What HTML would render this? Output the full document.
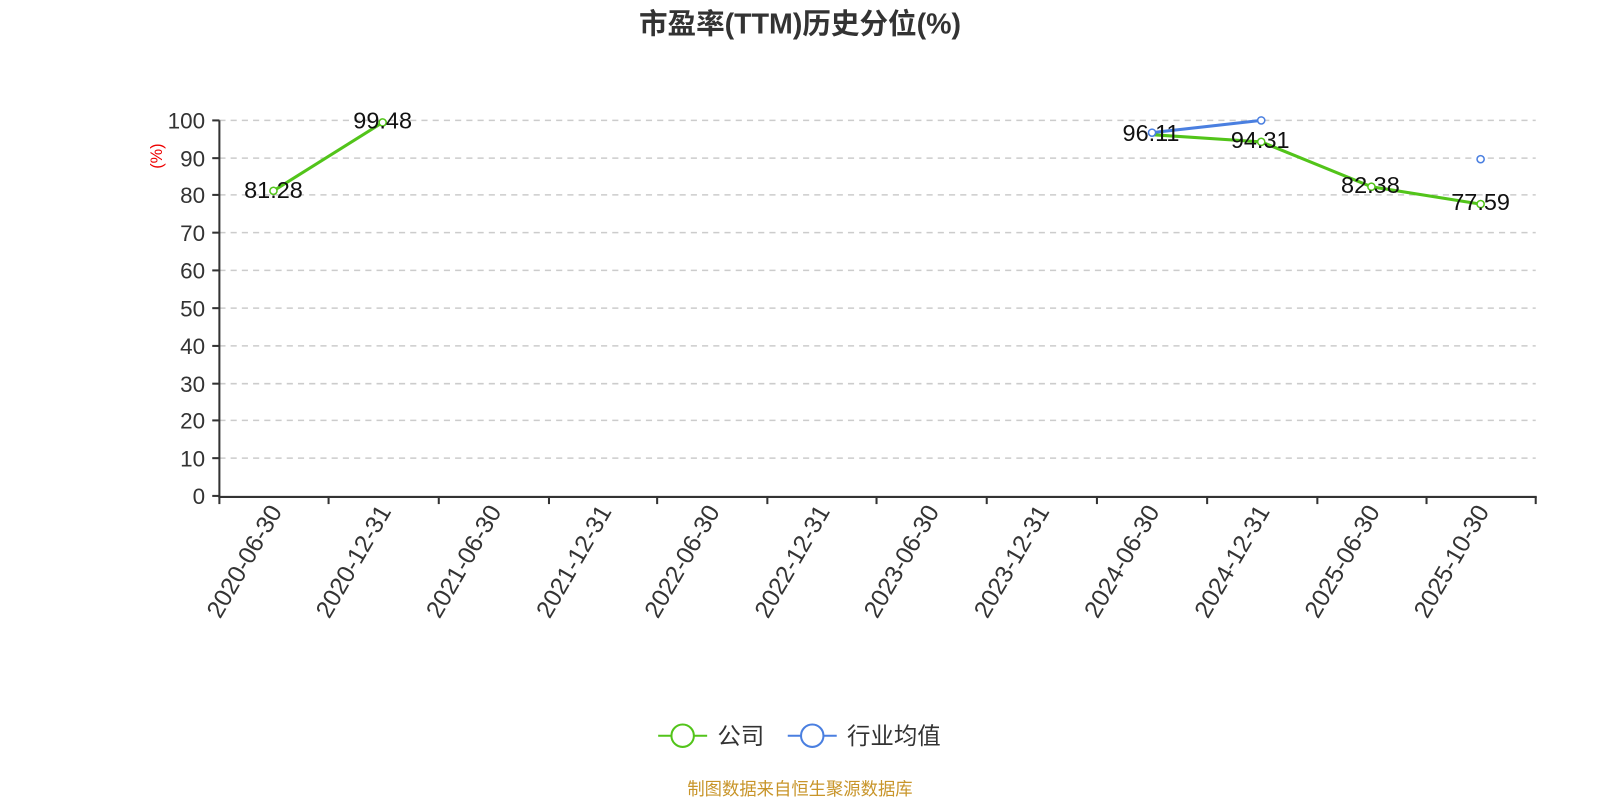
<!DOCTYPE html>
<html><head><meta charset="utf-8"><style>
html,body{margin:0;padding:0;background:#fff;}
svg{display:block;font-family:"Liberation Sans","Noto Sans CJK SC",sans-serif;}
</style></head><body>
<svg width="1600" height="800" viewBox="0 0 1568 784" preserveAspectRatio="none" xmlns="http://www.w3.org/2000/svg">
<rect width="1568" height="784" fill="#fff"/>
<text x="784" y="33" text-anchor="middle" font-size="28" font-weight="bold" fill="#333">市盈率(TTM)历史分位(%)</text>
<g stroke="#ccc" stroke-width="1.5" stroke-dasharray="6,5">
<line x1="215" y1="118" x2="1505" y2="118"/><line x1="215" y1="155" x2="1505" y2="155"/>
<line x1="215" y1="191" x2="1505" y2="191"/><line x1="215" y1="228" x2="1505" y2="228"/>
<line x1="215" y1="265" x2="1505" y2="265"/><line x1="215" y1="302" x2="1505" y2="302"/>
<line x1="215" y1="339" x2="1505" y2="339"/><line x1="215" y1="376" x2="1505" y2="376"/>
<line x1="215" y1="412" x2="1505" y2="412"/><line x1="215" y1="449" x2="1505" y2="449"/>
</g>
<g stroke="#333" stroke-width="2">
<line x1="215" y1="118" x2="215" y2="487"/><line x1="214" y1="487" x2="1506" y2="487"/>
<line x1="208" y1="118" x2="215" y2="118"/><line x1="208" y1="155" x2="215" y2="155"/><line x1="208" y1="191" x2="215" y2="191"/><line x1="208" y1="228" x2="215" y2="228"/><line x1="208" y1="265" x2="215" y2="265"/><line x1="208" y1="302" x2="215" y2="302"/><line x1="208" y1="339" x2="215" y2="339"/><line x1="208" y1="376" x2="215" y2="376"/><line x1="208" y1="412" x2="215" y2="412"/><line x1="208" y1="449" x2="215" y2="449"/><line x1="208" y1="486" x2="215" y2="486"/>
<line x1="215" y1="487" x2="215" y2="494"/><line x1="322" y1="487" x2="322" y2="494"/><line x1="430" y1="487" x2="430" y2="494"/><line x1="538" y1="487" x2="538" y2="494"/><line x1="644" y1="487" x2="644" y2="494"/><line x1="752" y1="487" x2="752" y2="494"/><line x1="859" y1="487" x2="859" y2="494"/><line x1="967" y1="487" x2="967" y2="494"/><line x1="1075" y1="487" x2="1075" y2="494"/><line x1="1183" y1="487" x2="1183" y2="494"/><line x1="1291" y1="487" x2="1291" y2="494"/><line x1="1398" y1="487" x2="1398" y2="494"/><line x1="1505" y1="487" x2="1505" y2="494"/>
</g>
<g font-size="22" fill="#333" text-anchor="end">
<text x="201" y="126">100</text><text x="201" y="163">90</text><text x="201" y="199">80</text><text x="201" y="236">70</text><text x="201" y="273">60</text><text x="201" y="310">50</text><text x="201" y="347">40</text><text x="201" y="384">30</text><text x="201" y="420">20</text><text x="201" y="457">10</text><text x="201" y="494">0</text>
</g>
<text transform="translate(159,153) rotate(-90)" text-anchor="middle" font-size="16" fill="#e00">(%)</text>
<g font-size="24" fill="#333" text-anchor="end">
<text transform="translate(277,501) rotate(-60)">2020-06-30</text>
<text transform="translate(384,501) rotate(-60)">2020-12-31</text>
<text transform="translate(492,501) rotate(-60)">2021-06-30</text>
<text transform="translate(600,501) rotate(-60)">2021-12-31</text>
<text transform="translate(706,501) rotate(-60)">2022-06-30</text>
<text transform="translate(814,501) rotate(-60)">2022-12-31</text>
<text transform="translate(921,501) rotate(-60)">2023-06-30</text>
<text transform="translate(1029,501) rotate(-60)">2023-12-31</text>
<text transform="translate(1137,501) rotate(-60)">2024-06-30</text>
<text transform="translate(1245,501) rotate(-60)">2024-12-31</text>
<text transform="translate(1353,501) rotate(-60)">2025-06-30</text>
<text transform="translate(1460,501) rotate(-60)">2025-10-30</text>
</g>
<polyline points="1129,130 1236,118" fill="none" stroke="#4a7fe0" stroke-width="3"/>
<polyline points="268,187 375,120" fill="none" stroke="#52c41a" stroke-width="3"/>
<polyline points="1129,132 1236,139 1344,183 1451,200" fill="none" stroke="#52c41a" stroke-width="3"/>
<g fill="#fff" stroke="#4a7fe0" stroke-width="1.5">
<circle cx="1129" cy="130" r="3.5"/><circle cx="1236" cy="118" r="3.5"/><circle cx="1451" cy="156" r="3.5"/>
</g>
<g fill="#fff" stroke="#52c41a" stroke-width="1.5">
<circle cx="268" cy="187" r="3.5"/><circle cx="375" cy="120" r="3.5"/><circle cx="1236" cy="139" r="3.5"/><circle cx="1344" cy="183" r="3.5"/><circle cx="1451" cy="200" r="3.5"/>
</g>
<g font-size="23" fill="#111" text-anchor="middle">
<text x="268" y="194">81.28</text><text x="375" y="126">99.48</text><text x="1128" y="138">96.11</text><text x="1235" y="145">94.31</text><text x="1343" y="189">82.38</text><text x="1451" y="206">77.59</text>
</g>
<line x1="645" y1="721" x2="693" y2="721" stroke="#52c41a" stroke-width="2"/>
<circle cx="669" cy="721" r="11" fill="#fff" stroke="#52c41a" stroke-width="2"/>
<text x="703" y="729" font-size="23" fill="#333">公司</text>
<line x1="772" y1="721" x2="820" y2="721" stroke="#4a7fe0" stroke-width="2"/>
<circle cx="796" cy="721" r="11" fill="#fff" stroke="#4a7fe0" stroke-width="2"/>
<text x="830" y="729" font-size="23" fill="#333">行业均值</text>
<text x="784" y="779" text-anchor="middle" font-size="17" fill="#c8952a">制图数据来自恒生聚源数据库</text>
</svg>
</body></html>
